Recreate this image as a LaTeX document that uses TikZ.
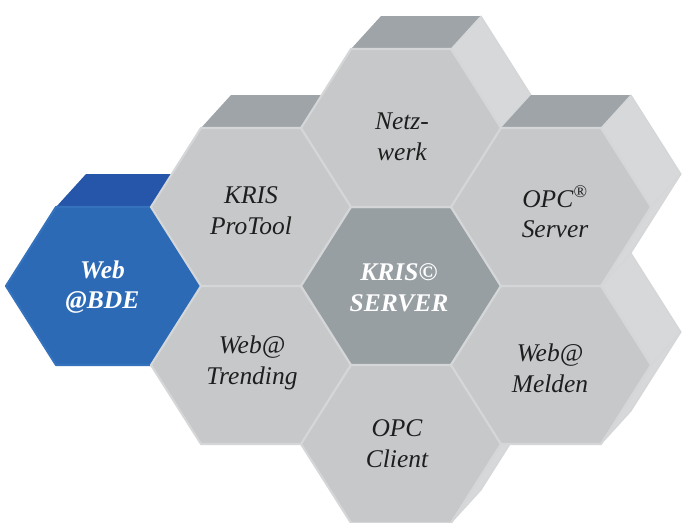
\documentclass[tikz,border=0pt]{standalone}
\usepackage{fontspec}
\setmainfont{Liberation Serif}
\definecolor{cellgray}{RGB}{198,200,202}
\definecolor{celledge}{RGB}{212,214,216}
\definecolor{topgray}{RGB}{158,164,167}
\definecolor{sidegray}{RGB}{214,216,218}
\definecolor{hubgray}{RGB}{151,159,163}
\definecolor{bdeblue}{RGB}{44,106,182}
\definecolor{bdeedge}{RGB}{52,114,190}
\definecolor{bdetop}{RGB}{38,86,170}
\definecolor{labeltext}{RGB}{30,30,30}
\begin{document}
\begin{tikzpicture}[scale=1,inner sep=0pt,outer sep=0pt,line join=round,
cellfront/.style={line width=1.2pt},
cellside/.style={draw=celledge,line width=0.6pt},
celllabel/.style={align=center,text=labeltext,font=\fontsize{14.5}{17.5}\selectfont\itshape},
hublabel/.style={align=center,text=white,font=\fontsize{14.5}{17.5}\selectfont\bfseries\itshape}]
\useasboundingbox (-8.02,-4.72) rectangle (5.66,5.72);
\foreach \cx/\cy/\fc/\ec/\tc/\sc in {-5.9/0/bdeblue/bdeedge/bdetop/bdeblue,-3/-1.58/cellgray/celledge/topgray/sidegray,
  0/-3.16/cellgray/celledge/topgray/sidegray,-3/1.58/cellgray/celledge/topgray/sidegray,0/0/hubgray/celledge/topgray/sidegray,
  3/-1.58/cellgray/celledge/topgray/sidegray,0/3.16/cellgray/celledge/topgray/sidegray,3/1.58/cellgray/celledge/topgray/sidegray}
{
\begin{scope}[shift={(\cx,\cy)}]
\fill[\tc] (-1,1.58) -- (1,1.58) -- (1.6,2.24) -- (-0.4,2.24) -- cycle;
\draw[cellside,fill=\sc] (1,1.58) -- (1.6,2.24) -- (2.6,0.66) -- (2,0) -- cycle;
\draw[cellside,fill=\sc] (2,0) -- (2.6,0.66) -- (1.6,-0.92) -- (1,-1.58) -- cycle;
\draw[cellfront,draw=\ec,fill=\fc] (2,0) -- (1,1.58) -- (-1,1.58) -- (-2,0) -- (-1,-1.58) -- (1,-1.58) -- cycle;
\end{scope}
}
\node[celllabel] (netz) at (0.02,2.98) {Netz-\\werk};
\node[celllabel] (protool) at (-3,1.5) {KRIS\\ProTool};
\node[celllabel] (opcserver) at (3.08,1.48) {OPC\textsuperscript{®}\\Server};
\node[hublabel] (server) at (-0.04,-0.04) {KRIS©\\SERVER};
\node[hublabel] (bde) at (-5.97,-0.02) {Web\\@BDE};
\node[celllabel] (trending) at (-2.98,-1.54) {Web@\\Trending};
\node[celllabel] (melden) at (2.98,-1.64) {Web@\\Melden};
\node[celllabel] (opcclient) at (-0.08,-3.16) {OPC\\Client};
\end{tikzpicture}
\end{document}
